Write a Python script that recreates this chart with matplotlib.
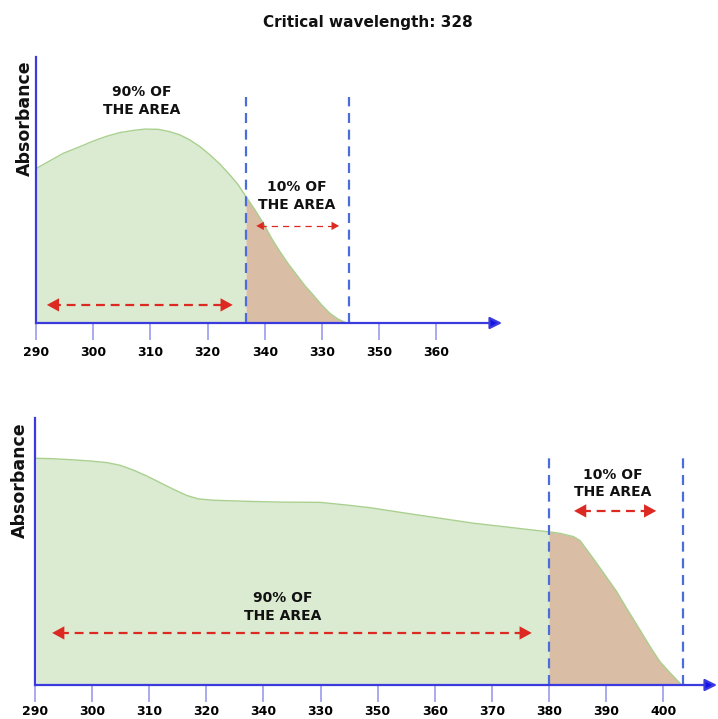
import numpy as np
import matplotlib
matplotlib.use("Agg")
import matplotlib.pyplot as plt

# top spectrum: positions along the wavelength axis and absorbance
top_x = [290.12, 292.45, 294.78, 297.69, 300.02, 302.35, 304.69, 307.02, 309.06,
         311.39, 313.43, 315.17, 316.92, 318.67, 320.42, 322.17, 323.92, 325.37,
         326.71, 328.29, 329.74, 331.20, 332.66, 334.11, 335.57, 337.03, 338.48,
         339.94, 341.40, 342.86, 344.31]
top_y = [0.582, 0.610, 0.638, 0.663, 0.684, 0.702, 0.716, 0.724, 0.729,
         0.728, 0.719, 0.707, 0.688, 0.663, 0.632, 0.597, 0.556, 0.519,
         0.475, 0.425, 0.375, 0.318, 0.268, 0.222, 0.181, 0.140, 0.105,
         0.068, 0.036, 0.014, 0.0]
top_cut = 326.71
top_end = 344.8
top_ticks = [290, 300, 310, 320, 330, 340, 350, 360]
top_labels = ['290', '300', '310', '320', '340', '330', '350', '360']

# bottom spectrum
bot_x = [290.18, 292.63, 296.13, 299.63, 302.55, 304.89, 307.22, 309.56, 311.89,
         314.23, 316.56, 318.60, 321.23, 327.07, 332.91, 339.91, 344.58, 348.67,
         355.09, 366.77, 380.0, 381.94, 384.28, 385.45, 386.91, 388.37, 390.12,
         391.87, 393.62, 395.96, 397.71, 399.46, 401.21, 403.25]
bot_y = [0.849, 0.848, 0.844, 0.839, 0.833, 0.823, 0.805, 0.783, 0.758,
         0.733, 0.710, 0.697, 0.692, 0.688, 0.685, 0.684, 0.674, 0.664,
         0.643, 0.606, 0.5735, 0.568, 0.556, 0.541, 0.499, 0.456, 0.403,
         0.350, 0.287, 0.206, 0.144, 0.087, 0.046, 0.0]
bot_cut = 380.0
bot_end = 403.5
bot_ticks = [290, 300, 310, 320, 330, 340, 350, 360, 370, 380, 390, 400]
bot_labels = ['290', '300', '310', '320', '340', '330', '350', '360', '370',
              '380', '390', '400']

GREEN = '#dbebd2'
GREEN_EDGE = '#a9d08e'
BROWN = '#d9bda5'
AXIS = '#3a3ade'
HEAD = '#1414e6'
TICK = '#a3a3ee'
VLINE = '#4b6ddb'
RED = '#dc2a22'

W, H = 718, 719
fig = plt.figure(figsize=(W / 100, H / 100), dpi=100)


def make_axes(left, right, bottom, top, xmax, pad):
    ax = fig.add_axes([left / W, (H - bottom) / H, (right - left) / W, (bottom - top) / H])
    ax.set_xlim(290, xmax)
    ax.set_ylim(0, 1)
    for s in ['top', 'right', 'bottom']:
        ax.spines[s].set_visible(False)
    ax.spines['left'].set_color(AXIS)
    ax.spines['left'].set_linewidth(1.6)
    ax.set_yticks([])
    ax.annotate('', xy=(1, 0), xytext=(0, 0), xycoords='axes fraction',
                arrowprops=dict(arrowstyle='-|>,head_length=0.6,head_width=0.3',
                                mutation_scale=12, color=AXIS, fc=HEAD, lw=1.6,
                                shrinkA=0, shrinkB=0), annotation_clip=False)
    ax.tick_params(axis='x', direction='out', length=12, width=1.3, color=TICK,
                   pad=pad, labelsize=9)
    return ax


def draw_spectrum(ax, xs, ys, cut, end):
    xs = np.array(xs)
    ys = np.array(ys)
    left = xs <= cut + 1e-9
    right = xs >= cut - 1e-9
    ax.fill_between(xs[left], 0, ys[left], color=GREEN, lw=0)
    ax.fill_between(xs[right], 0, ys[right], color=BROWN, lw=0)
    ax.plot(xs, ys, color=GREEN_EDGE, lw=1.0)
    for v in (cut, end):
        ax.plot([v, v], [0, 0.85], color=VLINE, lw=1.6, dashes=(4.5, 3))


def dashed_arrow(ax, x0, x1, y, lw, dash, scale):
    pad = (ax.get_xlim()[1] - 290) * 0.012 * scale / 16
    ax.plot([x0 + pad, x1 - pad], [y, y], color=RED, lw=lw, dashes=dash)
    style = '-|>,head_length=0.55,head_width=0.3'
    for tip, back in ((x1, x1 - 0.2), (x0, x0 + 0.2)):
        ax.annotate('', xy=(tip, y), xytext=(back, y),
                    arrowprops=dict(arrowstyle=style, mutation_scale=scale,
                                    color=RED, lw=0, shrinkA=0, shrinkB=0))


def label(ax, x, y, s):
    ax.text(x, y, s, ha='center', va='center', fontsize=10, fontweight='bold',
            linespacing=1.3, color='#111111')


# top panel
ax1 = make_axes(36, 502, 323, 57, 290 + (502 - 36) / 5.72, 4.5)
draw_spectrum(ax1, top_x, top_y, top_cut, top_end)
ax1.set_xticks(top_ticks)
ax1.set_xticklabels(top_labels, fontweight='bold')
dashed_arrow(ax1, 291.9, 324.4, 0.068, 1.6, (4, 2.6), 16)
dashed_arrow(ax1, 328.5, 343.0, 0.365, 0.9, (5, 4), 10)
label(ax1, 308.5, 0.835, '90% OF\nTHE AREA')
label(ax1, 335.6, 0.477, '10% OF\nTHE AREA')

# bottom panel
ax2 = make_axes(35, 717, 685, 418, 290 + (717 - 35) / 5.71, 2.5)
draw_spectrum(ax2, bot_x, bot_y, bot_cut, bot_end)
ax2.set_xticks(bot_ticks)
ax2.set_xticklabels(bot_labels, fontweight='bold')
dashed_arrow(ax2, 293.0, 377.0, 0.195, 1.6, (4, 2.6), 16)
dashed_arrow(ax2, 384.4, 398.8, 0.652, 1.6, (4, 2.6), 16)
label(ax2, 333.4, 0.292, '90% OF\nTHE AREA')
label(ax2, 391.2, 0.755, '10% OF\nTHE AREA')

fig.text(368 / W, 1 - 23 / H, 'Critical wavelength: 328', ha='center', va='center',
         fontsize=11, fontweight='bold', color='#111111')
fig.text(25 / W, 1 - 118 / H, 'Absorbance', rotation=90, ha='center', va='center',
         fontsize=12.5, fontweight='bold', color='#111111')
fig.text(20 / W, 1 - 480 / H, 'Absorbance', rotation=90, ha='center', va='center',
         fontsize=12.5, fontweight='bold', color='#111111')

fig.savefig('out.png', dpi=100)
